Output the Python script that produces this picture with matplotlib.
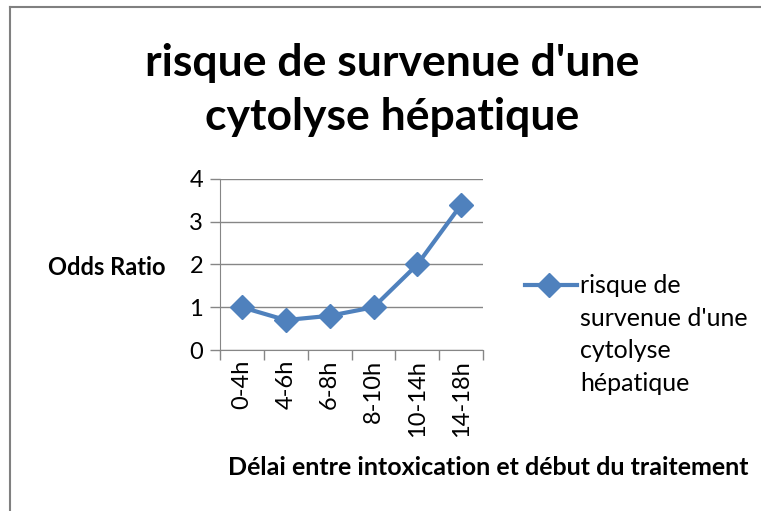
import matplotlib.pyplot as plt
from matplotlib.lines import Line2D

categories = ['0-4h', '4-6h', '6-8h', '8-10h', '10-14h', '14-18h']
odds_ratio = [1, 0.7, 0.8, 1, 2, 3.4]
yticks = [0, 1, 2, 3, 4]
series_name = "risque de\nsurvenue d'une\ncytolyse\nhépatique"

plt.rcParams['font.family'] = ['Lato', 'DejaVu Sans']
blue = '#4F81BD'
grey = '#868686'

fig = plt.figure(figsize=(7.61, 5.11), dpi=100)
ax = fig.add_axes([0.289, 0.315, 0.346, 0.335])

x = list(range(len(categories)))
ax.plot(x, odds_ratio, color=blue, lw=3, marker='D', markersize=12, zorder=3)

ax.set_xlim(-0.5, len(categories) - 0.5)
ax.set_ylim(0, 4)
ax.set_yticks(yticks)
ax.set_yticklabels([str(t) for t in yticks], fontsize=17)
ax.yaxis.grid(True, color=grey, lw=1)
ax.set_axisbelow(True)

ax.set_xticks(x)
ax.set_xticklabels(categories, rotation=90, fontsize=17)
ax.tick_params(axis='x', length=0, pad=7)
ax.set_xticks([i - 0.5 for i in range(len(categories) + 1)], minor=True)
ax.tick_params(axis='x', which='minor', length=7, color=grey, width=1)
ax.tick_params(axis='y', length=7, color=grey, width=1, pad=5)

for s in ['top', 'right']:
    ax.spines[s].set_visible(False)
for s in ['left', 'bottom']:
    ax.spines[s].set_color(grey)

fig.text(0.515, 0.824, "risque de survenue d'une\ncytolyse hépatique",
         ha='center', va='center', fontsize=32, fontweight='bold', linespacing=1.45)
fig.text(0.063, 0.477, 'Odds Ratio', ha='left', va='center',
         fontsize=17, fontweight='bold')
fig.text(0.641, 0.085, 'Délai entre intoxication et début du traitement',
         ha='center', va='center', fontsize=18, fontweight='bold')

# legend: handle aligned with the first line of the wrapped label
fig.add_artist(Line2D([0.69, 0.758], [0.442, 0.442], color=blue, lw=3))
fig.add_artist(Line2D([0.722], [0.442], color=blue, marker='D', markersize=12))
fig.text(0.762, 0.442 + 0.021, series_name, ha='left', va='top',
         fontsize=18, linespacing=1.5)

# partial chart border (top and left edges)
fig.add_artist(Line2D([0.0135, 0.0135], [0, 0.986], color='#808080', lw=1.5))
fig.add_artist(Line2D([0.0135, 1], [0.986, 0.986], color='#808080', lw=1.5))

fig.savefig('out.png', dpi=100)
